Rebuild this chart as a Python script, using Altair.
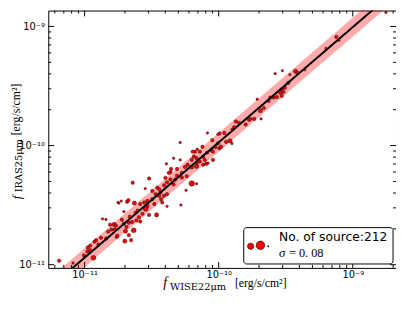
import altair as alt
import pandas as pd

# log10 of the fluxes (erg/s/cm^2)
log_f22 = [-11.190, -11.086, -10.934, -11.005, -10.980, -10.976, -10.958, -10.927, -10.914, -10.878,
           -10.839, -10.866, -10.841, -10.810, -10.780, -10.775, -10.799, -10.760, -10.744, -10.727,
           -10.683, -10.629, -10.707, -10.687, -10.695, -10.670, -10.646, -10.670, -10.653, -10.700,
           -10.634, -10.614, -10.585, -10.595, -10.707, -10.756, -10.287, -10.177, -10.185, -10.201,
           -10.336, -10.390, -10.311, -10.355, -10.360, -10.275, -10.238, -10.201, -10.243, -10.372,
           -10.397, -10.360, -10.324, -10.336, -10.519, -10.641, -10.548, -10.495, -10.458, -10.434,
           -10.470, -10.495, -10.531, -10.555, -10.585, -10.673, -10.751, -10.604, -10.544, -10.519,
           -10.463, -10.385, -10.282, -10.421, -10.445, -10.409, -10.084, -9.994, -9.958, -9.896,
           -9.872, -9.848, -9.799, -9.774, -9.735, -9.916, -9.901, -9.945, -10.006, -10.023,
           -9.994, -10.055, -10.086, -10.116, -10.141, -10.160, -10.194, -10.165, -10.141, -10.104,
           -10.165, -10.231, -10.287, -10.201, -10.165, -10.251, -10.116, -10.092, -10.043, -10.079,
           -10.043, -10.006, -9.579, -9.525, -9.427, -9.412, -9.469, -9.359, -9.200, -9.481,
           -9.506, -9.530, -9.542, -9.518, -9.530, -9.713, -9.628, -9.591, -9.566, -9.615,
           -9.689, -9.664, -9.684, -9.762, -9.884, -9.122, -9.103, -8.753, -10.568, -10.531,
           -10.480, -10.443, -10.407, -10.385, -10.311, -10.275, -10.429, -10.619, -10.663, -10.722,
           -10.766, -10.824, -10.897, -10.956, -10.165, -10.385, -10.048, -10.121, -9.982]
log_f25 = [-10.967, -10.986, -10.942, -10.922, -10.889, -10.856, -10.840, -10.807, -10.794, -10.774,
           -10.780, -10.615, -10.620, -10.664, -10.662, -10.703, -10.705, -10.766, -10.483, -10.466,
           -10.472, -10.483, -10.656, -10.683, -10.719, -10.648, -10.642, -10.752, -10.794, -10.802,
           -10.711, -10.629, -10.637, -10.601, -10.554, -10.757, -9.974, -10.051, -10.092, -10.120,
           -10.106, -10.153, -10.196, -10.196, -10.224, -10.229, -10.257, -10.318, -10.375, -10.229,
           -10.271, -10.285, -10.285, -10.326, -10.276, -10.312, -10.361, -10.381, -10.353, -10.394,
           -10.408, -10.450, -10.464, -10.477, -10.491, -10.458, -10.477, -10.546, -10.532, -10.582,
           -10.582, -10.510, -10.499, -10.477, -10.422, -10.422, -9.894, -9.899, -9.894, -9.864,
           -9.798, -9.809, -9.823, -9.784, -9.776, -9.960, -9.982, -9.969, -9.982, -10.015,
           -10.023, -10.037, -10.059, -10.092, -10.051, -10.031, -10.051, -10.106, -10.134, -10.120,
           -10.147, -10.161, -10.120, -10.180, -10.175, -10.180, -10.161, -10.153, -10.120, -10.147,
           -10.051, -9.905, -9.396, -9.371, -9.377, -9.391, -9.404, -9.363, -9.185, -9.474,
           -9.515, -9.528, -9.556, -9.550, -9.583, -9.611, -9.625, -9.597, -9.592, -9.597,
           -9.707, -9.685, -9.776, -9.776, -9.845, -9.088, -9.116, -8.882, -10.573, -10.507,
           -10.491, -10.367, -10.334, -10.309, -10.252, -10.268, -10.450, -10.565, -10.598, -10.623,
           -10.672, -10.722, -10.829, -10.879, -10.320, -10.408, -9.955, -10.010, -10.010]
marker_class = [2, 1, 4, 2, 2, 2, 2, 2, 2, 2,
                2, 1, 1, 2, 3, 2, 2, 2, 1, 1,
                2, 3, 2, 2, 3, 2, 2, 2, 2, 3,
                4, 2, 2, 2, 1, 2, 1, 2, 2, 2,
                1, 1, 2, 2, 2, 2, 2, 5, 1, 2,
                2, 2, 2, 2, 2, 2, 1, 2, 2, 2,
                2, 2, 2, 2, 2, 2, 1, 2, 4, 2,
                3, 1, 1, 2, 2, 2, 1, 2, 2, 2,
                2, 2, 2, 2, 2, 3, 1, 2, 2, 2,
                2, 2, 2, 2, 2, 1, 2, 2, 2, 2,
                2, 2, 1, 3, 3, 2, 2, 2, 2, 1,
                2, 1, 1, 1, 3, 2, 1, 1, 1, 2,
                2, 2, 2, 2, 2, 1, 2, 2, 2, 2,
                3, 2, 1, 2, 2, 2, 1, 1, 2, 2,
                2, 2, 2, 2, 2, 2, 2, 2, 2, 2,
                2, 2, 2, 2, 1, 2, 2, 2, 2]

# best-fit line and its +/- sigma band, read at two ends
fit_f22 = [4.0e-12, 3.0e-9]
fit_f25 = [4.72e-12, 2.86e-9]
band_low = [3.93e-12, 2.38e-9]
band_high = [5.67e-12, 3.44e-9]

x_domain = [5.36e-12, 2.10e-9]
y_domain = [9.40e-12, 1.36e-9]
major_ticks = [1e-11, 1e-10, 1e-9]
minor_ticks = [m * 10.0 ** e for e in (-12, -11, -10, -9) for m in range(2, 10)]

legend_lines = ["No. of source:212", "σ", "= 0. 08"]

W, H = 354, 262
MAJ, MIN = 6, 3

df = pd.DataFrame({
    "f22": [10 ** v for v in log_f22],
    "f25": [10 ** v for v in log_f25],
    "cls": marker_class,
})

xs = alt.Scale(type="log", domain=x_domain, nice=False)
ys = alt.Scale(type="log", domain=y_domain, nice=False)

label_expr = "datum.value < 3e-11 ? '10⁻¹¹' : (datum.value < 3e-10 ? '10⁻¹⁰' : '10⁻⁹')"
axis_common = dict(values=major_ticks, labelExpr=label_expr, ticks=False, domain=False,
                   grid=False, title=None, labelFont="DejaVu Sans", labelFontSize=10,
                   labelColor="black", labelFlush=False, labelOverlap=False)
X_AX = alt.Axis(orient="bottom", labelPadding=2, **axis_common)
Y_AX = alt.Axis(orient="left", labelPadding=4, **axis_common)

band = alt.Chart(pd.DataFrame({"x": fit_f22, "lo": band_low, "hi": band_high})).mark_area(
    color="#ff0000", opacity=0.33, clip=True
).encode(
    x=alt.X("x:Q", scale=xs, axis=X_AX),
    y=alt.Y("lo:Q", scale=ys, axis=Y_AX),
    y2="hi:Q",
)

pts = alt.Chart(df).mark_circle(
    fill="#ff0000", stroke="black", strokeWidth=0.45, opacity=1, fillOpacity=1, clip=True
).encode(
    x=alt.X("f22:Q", scale=xs, axis=X_AX),
    y=alt.Y("f25:Q", scale=ys, axis=Y_AX),
    size=alt.Size("cls:O", scale=alt.Scale(domain=[1, 2, 3, 4, 5], range=[6, 30, 46, 70, 135]),
                  legend=None),
)

line = alt.Chart(pd.DataFrame({"x": fit_f22, "y": fit_f25})).mark_line(
    color="black", strokeWidth=2, clip=True
).encode(
    x=alt.X("x:Q", scale=xs, axis=X_AX),
    y=alt.Y("y:Q", scale=ys, axis=Y_AX),
)


def ticks(vals, length, side):
    base = alt.Chart(pd.DataFrame({"v": vals})).mark_rule(color="black", strokeWidth=1, clip=True)
    if side == "bottom":
        return base.encode(x=alt.X("v:Q", scale=xs, axis=X_AX), y=alt.value(H), y2=alt.value(H - length))
    if side == "top":
        return base.encode(x=alt.X("v:Q", scale=xs, axis=X_AX), y=alt.value(0), y2=alt.value(length))
    if side == "left":
        return base.encode(y=alt.Y("v:Q", scale=ys, axis=Y_AX), x=alt.value(0), x2=alt.value(length))
    return base.encode(y=alt.Y("v:Q", scale=ys, axis=Y_AX), x=alt.value(W), x2=alt.value(W - length))


tick_layers = []
for side in ("bottom", "top", "left", "right"):
    tick_layers.append(ticks(major_ticks, MAJ, side))
    tick_layers.append(ticks(minor_ticks, MIN, side))


def text(txt, x, y, size, font="Liberation Serif", italic=False, angle=0):
    return alt.Chart(pd.DataFrame({"t": [txt]})).mark_text(
        align="left", baseline="alphabetic", fontSize=size, font=font,
        fontStyle="italic" if italic else "normal", angle=angle, color="black"
    ).encode(x=alt.value(x), y=alt.value(y), text="t:N")


titles = [
    # x title
    text("f", 117, 281, 14, italic=True),
    text("WISE22μm", 124, 284, 10, font="DejaVu Serif"),
    text("[erg/s/cm²]", 190, 281, 12),
    # y title (rotated)
    text("f", -28, 192, 13, italic=True, angle=270),
    text("IRAS25μm", -26.5, 185, 10, font="DejaVu Serif", angle=270),
    text("[erg/s/cm²]", -29, 127, 12, angle=270),
]

legend_box = alt.Chart(pd.DataFrame({"a": [0]})).mark_rect(
    fill="white", stroke="black", strokeWidth=1, cornerRadius=3
).encode(x=alt.value(199), x2=alt.value(351), y=alt.value(221), y2=alt.value(258))


def dot(x, y, area):
    return alt.Chart(pd.DataFrame({"a": [0]})).mark_circle(
        fill="#ff0000", stroke="black", strokeWidth=0.6, opacity=1, fillOpacity=1
    ).encode(x=alt.value(x), y=alt.value(y), size=alt.value(area))


legend = [
    legend_box,
    dot(206, 240, 40),
    dot(216, 239, 75),
    dot(224, 240, 2),
    text(legend_lines[0], 235, 235, 12.5, font="DejaVu Sans"),
    text(legend_lines[1], 235, 251, 13, italic=True),
    text(legend_lines[2], 245, 251, 12.5),
]

chart = alt.layer(band, pts, line, *tick_layers, *legend, *titles).properties(
    width=W, height=H,
    padding={"left": 41, "top": 0, "right": 0, "bottom": 26},
    autosize=alt.AutoSizeParams(type="none"),
).configure_view(stroke="black", strokeWidth=1)

chart.save("out.html", embed_options={"renderer": "svg", "actions": False})
